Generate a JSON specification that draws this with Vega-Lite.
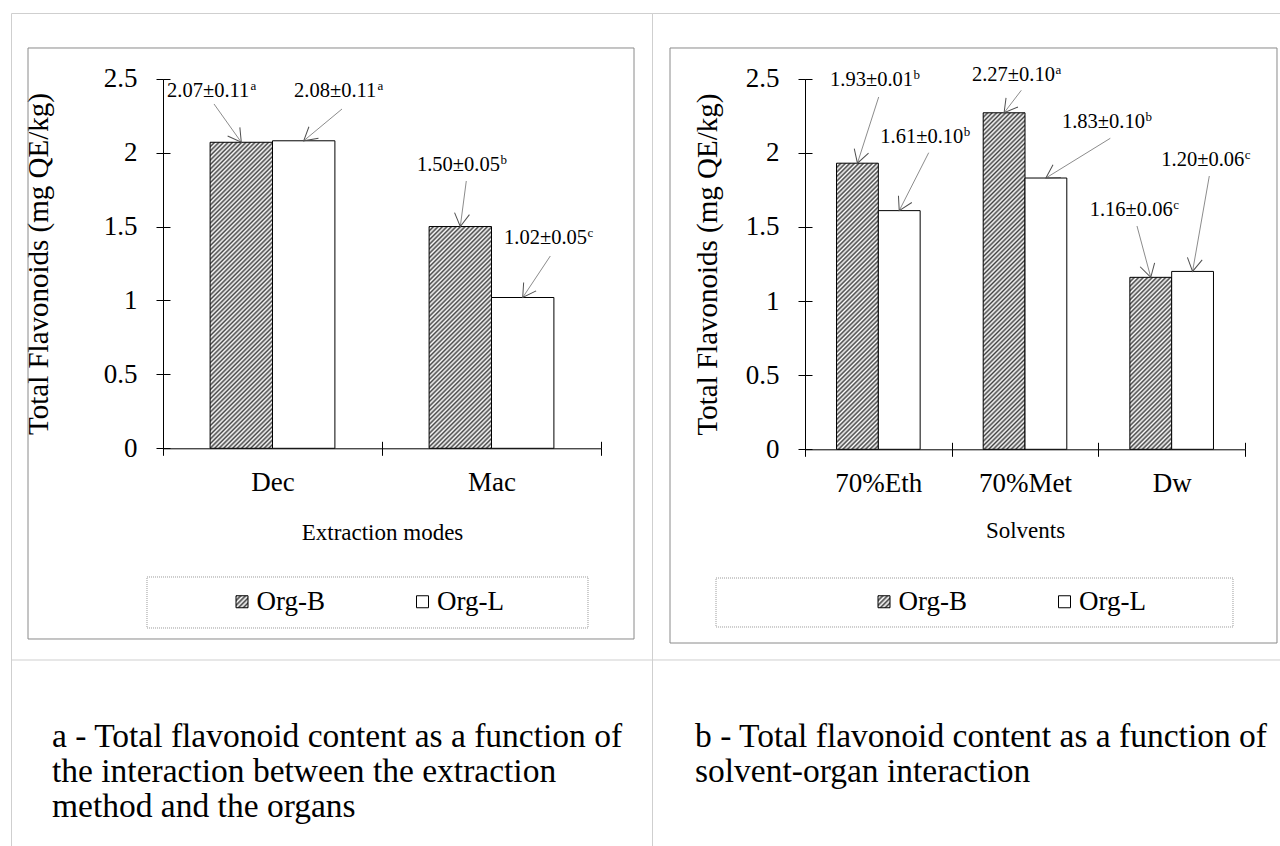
{
"$schema": "https://vega.github.io/schema/vega-lite/v6.json",
"padding": {"left": 9, "top": 12, "right": 0, "bottom": 0},
"autosize": {"type": "pad"},
"background": "white",
"bounds": "flush",
"spacing": 0,
"resolve": {"scale": {"xOffset": "independent", "fill": "independent"}, "legend": {"fill": "independent"}},
"params": [
{"name": "hatch", "value": [{"offset":0,"color":"#444"},{"offset":0.005,"color":"#fff"},{"offset":0.01,"color":"#444"},{"offset":0.015,"color":"#fff"},{"offset":0.02,"color":"#444"},{"offset":0.025,"color":"#fff"},{"offset":0.03,"color":"#444"},{"offset":0.035,"color":"#fff"},{"offset":0.04,"color":"#444"},{"offset":0.045,"color":"#fff"},{"offset":0.05,"color":"#444"},{"offset":0.055,"color":"#fff"},{"offset":0.06,"color":"#444"},{"offset":0.065,"color":"#fff"},{"offset":0.07,"color":"#444"},{"offset":0.075,"color":"#fff"},{"offset":0.08,"color":"#444"},{"offset":0.085,"color":"#fff"},{"offset":0.09,"color":"#444"},{"offset":0.095,"color":"#fff"},
{"offset":0.1,"color":"#444"},{"offset":0.105,"color":"#fff"},{"offset":0.11,"color":"#444"},{"offset":0.115,"color":"#fff"},{"offset":0.12,"color":"#444"},{"offset":0.125,"color":"#fff"},{"offset":0.13,"color":"#444"},{"offset":0.135,"color":"#fff"},{"offset":0.14,"color":"#444"},{"offset":0.145,"color":"#fff"},{"offset":0.15,"color":"#444"},{"offset":0.155,"color":"#fff"},{"offset":0.16,"color":"#444"},{"offset":0.165,"color":"#fff"},{"offset":0.17,"color":"#444"},{"offset":0.175,"color":"#fff"},{"offset":0.18,"color":"#444"},{"offset":0.185,"color":"#fff"},{"offset":0.19,"color":"#444"},{"offset":0.195,"color":"#fff"},
{"offset":0.2,"color":"#444"},{"offset":0.205,"color":"#fff"},{"offset":0.21,"color":"#444"},{"offset":0.215,"color":"#fff"},{"offset":0.22,"color":"#444"},{"offset":0.225,"color":"#fff"},{"offset":0.23,"color":"#444"},{"offset":0.235,"color":"#fff"},{"offset":0.24,"color":"#444"},{"offset":0.245,"color":"#fff"},{"offset":0.25,"color":"#444"},{"offset":0.255,"color":"#fff"},{"offset":0.26,"color":"#444"},{"offset":0.265,"color":"#fff"},{"offset":0.27,"color":"#444"},{"offset":0.275,"color":"#fff"},{"offset":0.28,"color":"#444"},{"offset":0.285,"color":"#fff"},{"offset":0.29,"color":"#444"},{"offset":0.295,"color":"#fff"},
{"offset":0.3,"color":"#444"},{"offset":0.305,"color":"#fff"},{"offset":0.31,"color":"#444"},{"offset":0.315,"color":"#fff"},{"offset":0.32,"color":"#444"},{"offset":0.325,"color":"#fff"},{"offset":0.33,"color":"#444"},{"offset":0.335,"color":"#fff"},{"offset":0.34,"color":"#444"},{"offset":0.345,"color":"#fff"},{"offset":0.35,"color":"#444"},{"offset":0.355,"color":"#fff"},{"offset":0.36,"color":"#444"},{"offset":0.365,"color":"#fff"},{"offset":0.37,"color":"#444"},{"offset":0.375,"color":"#fff"},{"offset":0.38,"color":"#444"},{"offset":0.385,"color":"#fff"},{"offset":0.39,"color":"#444"},{"offset":0.395,"color":"#fff"},
{"offset":0.4,"color":"#444"},{"offset":0.405,"color":"#fff"},{"offset":0.41,"color":"#444"},{"offset":0.415,"color":"#fff"},{"offset":0.42,"color":"#444"},{"offset":0.425,"color":"#fff"},{"offset":0.43,"color":"#444"},{"offset":0.435,"color":"#fff"},{"offset":0.44,"color":"#444"},{"offset":0.445,"color":"#fff"},{"offset":0.45,"color":"#444"},{"offset":0.455,"color":"#fff"},{"offset":0.46,"color":"#444"},{"offset":0.465,"color":"#fff"},{"offset":0.47,"color":"#444"},{"offset":0.475,"color":"#fff"},{"offset":0.48,"color":"#444"},{"offset":0.485,"color":"#fff"},{"offset":0.49,"color":"#444"},{"offset":0.495,"color":"#fff"},
{"offset":0.5,"color":"#444"},{"offset":0.505,"color":"#fff"},{"offset":0.51,"color":"#444"},{"offset":0.515,"color":"#fff"},{"offset":0.52,"color":"#444"},{"offset":0.525,"color":"#fff"},{"offset":0.53,"color":"#444"},{"offset":0.535,"color":"#fff"},{"offset":0.54,"color":"#444"},{"offset":0.545,"color":"#fff"},{"offset":0.55,"color":"#444"},{"offset":0.555,"color":"#fff"},{"offset":0.56,"color":"#444"},{"offset":0.565,"color":"#fff"},{"offset":0.57,"color":"#444"},{"offset":0.575,"color":"#fff"},{"offset":0.58,"color":"#444"},{"offset":0.585,"color":"#fff"},{"offset":0.59,"color":"#444"},{"offset":0.595,"color":"#fff"},
{"offset":0.6,"color":"#444"},{"offset":0.605,"color":"#fff"},{"offset":0.61,"color":"#444"},{"offset":0.615,"color":"#fff"},{"offset":0.62,"color":"#444"},{"offset":0.625,"color":"#fff"},{"offset":0.63,"color":"#444"},{"offset":0.635,"color":"#fff"},{"offset":0.64,"color":"#444"},{"offset":0.645,"color":"#fff"},{"offset":0.65,"color":"#444"},{"offset":0.655,"color":"#fff"},{"offset":0.66,"color":"#444"},{"offset":0.665,"color":"#fff"},{"offset":0.67,"color":"#444"},{"offset":0.675,"color":"#fff"},{"offset":0.68,"color":"#444"},{"offset":0.685,"color":"#fff"},{"offset":0.69,"color":"#444"},{"offset":0.695,"color":"#fff"},
{"offset":0.7,"color":"#444"},{"offset":0.705,"color":"#fff"},{"offset":0.71,"color":"#444"},{"offset":0.715,"color":"#fff"},{"offset":0.72,"color":"#444"},{"offset":0.725,"color":"#fff"},{"offset":0.73,"color":"#444"},{"offset":0.735,"color":"#fff"},{"offset":0.74,"color":"#444"},{"offset":0.745,"color":"#fff"},{"offset":0.75,"color":"#444"},{"offset":0.755,"color":"#fff"},{"offset":0.76,"color":"#444"},{"offset":0.765,"color":"#fff"},{"offset":0.77,"color":"#444"},{"offset":0.775,"color":"#fff"},{"offset":0.78,"color":"#444"},{"offset":0.785,"color":"#fff"},{"offset":0.79,"color":"#444"},{"offset":0.795,"color":"#fff"},
{"offset":0.8,"color":"#444"},{"offset":0.805,"color":"#fff"},{"offset":0.81,"color":"#444"},{"offset":0.815,"color":"#fff"},{"offset":0.82,"color":"#444"},{"offset":0.825,"color":"#fff"},{"offset":0.83,"color":"#444"},{"offset":0.835,"color":"#fff"},{"offset":0.84,"color":"#444"},{"offset":0.845,"color":"#fff"}]},
{"name": "hatchSym", "value": {"gradient": "linear", "x1": 0, "y1": 0, "x2": 1, "y2": 1, "stops": [{"offset":0,"color":"#444"},{"offset":0.1,"color":"#fff"},{"offset":0.2,"color":"#444"},{"offset":0.3,"color":"#fff"},{"offset":0.4,"color":"#444"},{"offset":0.5,"color":"#fff"},{"offset":0.6,"color":"#444"},{"offset":0.7,"color":"#fff"},{"offset":0.8,"color":"#444"},{"offset":0.9,"color":"#fff"},{"offset":1,"color":"#444"}]}}
],
"hconcat": [
{
"width": 641, "height": 860,
"title": {"text": ["a - Total flavonoid content as a function of", "the interaction between the extraction", "method and the organs"], "orient": "bottom", "anchor": "start", "frame": "group", "offset": -152, "dx": 41, "fontSize": 33.5, "lineHeight": 35},
"layer": [
{
"data": {"values": [
{"cat": "Dec", "organ": "Org-B", "value": 2.07, "sd": 0.11, "group": "a"},
{"cat": "Dec", "organ": "Org-L", "value": 2.08, "sd": 0.11, "group": "a"},
{"cat": "Mac", "organ": "Org-B", "value": 1.50, "sd": 0.05, "group": "b"},
{"cat": "Mac", "organ": "Org-L", "value": 1.02, "sd": 0.05, "group": "c"}
]},
"mark": {"type": "bar", "stroke": "black", "strokeWidth": 1},
"encoding": {
"x": {"field": "cat", "type": "nominal", "sort": ["Dec", "Mac"], "scale": {"range": [152, 590], "paddingInner": 0, "paddingOuter": 0}, "axis": {"title": "Extraction modes", "orient": "bottom", "offset": -424.7, "labelAngle": 0, "tickBand": "extent", "labelPadding": 14, "titlePadding": 26}},
"xOffset": {"field": "organ", "type": "nominal", "sort": ["Org-B", "Org-L"], "scale": {"range": [0, 219], "paddingInner": 0, "paddingOuter": 0.755}},
"y": {"field": "value", "type": "quantitative", "scale": {"domain": [0, 2.5], "range": [435.3, 65.7], "nice": false, "zero": false}, "axis": {"title": "Total Flavonoids (mg QE/kg)", "orient": "left", "offset": -152, "values": [0, 0.5, 1, 1.5, 2, 2.5], "format": "~g", "labelPadding": 19, "titlePadding": 50, "titleFontSize": 29}},
"fill": {
"field": "organ", "type": "nominal",
"scale": {"domain": ["Org-B", "Org-L"], "range": [{"expr": "hatchSym"}, "#ffffff"]},
"legend": {"orient": "none", "legendX": 217.5, "legendY": 575, "direction": "horizontal", "title": null, "padding": 0, "symbolType": "square", "symbolSize": 144, "symbolStrokeColor": "black", "symbolStrokeWidth": 1, "labelOffset": 1, "columnPadding": 83.5, "labelFontSize": 27, "labelColor": "black", "labelLimit": 400},
"condition": [
{"test": "datum.cat === 'Dec' && datum.organ === 'Org-B'", "value": {"expr": "{gradient: 'linear', x1: 0, y1: 0, x2: 0.2879, y2: 1.4119, stops: hatch}"}},
{"test": "datum.cat === 'Mac' && datum.organ === 'Org-B'", "value": {"expr": "{gradient: 'linear', x1: 0, y1: 0, x2: 0.5289, y2: 1.8801, stops: hatch}"}}
]
}
}
},
{
"data": {"values": [{}]},
"layer": [
{"mark": {"type": "rect", "filled": false, "color": "#8a8a8a", "strokeWidth": 1}, "encoding": {"x": {"datum": -0.6164, "type": "quantitative", "scale": {"domain": [0, 2], "range": [152, 590]}, "axis": {"orient": "bottom", "offset": -424.7, "values": [0, 1, 2], "tickSize": -7, "labels": false, "domain": false, "title": null, "grid": false}}, "x2": {"datum": 2.1507}, "y": {"datum": 2.7077, "type": "quantitative", "scale": {"domain": [0, 2.5], "range": [435.3, 65.7], "nice": false, "zero": false}, "axis": {"orient": "left", "offset": -152, "values": [0, 0.5, 1, 1.5, 2, 2.5], "tickSize": -7, "labels": false, "domain": false, "title": null, "grid": false}}, "y2": {"datum": -1.2899}}},
{"mark": {"type": "rect", "filled": false, "color": "#9a9a9a", "strokeWidth": 1, "strokeDash": [1, 1]}, "encoding": {"x": {"datum": -0.0731, "type": "quantitative", "scale": {"domain": [0, 2], "range": [152, 590]}}, "x2": {"datum": 1.9406}, "y": {"datum": -0.8705, "type": "quantitative", "scale": {"domain": [0, 2.5], "range": [435.3, 65.7], "nice": false, "zero": false}}, "y2": {"datum": -1.2155}}},
{"mark": {"type": "rule", "color": "#cfcfcf", "strokeWidth": 1}, "encoding": {"x": {"datum": -0.6941, "type": "quantitative", "scale": {"domain": [0, 2], "range": [152, 590]}}, "x2": {"datum": 2.2329}, "y": {"datum": -1.432, "type": "quantitative", "scale": {"domain": [0, 2.5], "range": [435.3, 65.7], "nice": false, "zero": false}}}},

{"mark": {"type": "text", "align": "left", "baseline": "alphabetic", "fontSize": 20.5, "color": "black"}, "encoding": {"x": {"datum": 0.0183, "type": "quantitative", "scale": {"domain": [0, 2], "range": [152, 590]}}, "y": {"datum": 2.373, "type": "quantitative", "scale": {"domain": [0, 2.5], "range": [435.3, 65.7], "nice": false, "zero": false}}, "text": {"value": "2.07±0.11"}}},
{"mark": {"type": "text", "align": "left", "baseline": "alphabetic", "fontSize": 13, "dx": 83.5, "dy": -7, "color": "black"}, "encoding": {"x": {"datum": 0.0183, "type": "quantitative", "scale": {"domain": [0, 2], "range": [152, 590]}}, "y": {"datum": 2.373, "type": "quantitative", "scale": {"domain": [0, 2.5], "range": [435.3, 65.7], "nice": false, "zero": false}}, "text": {"value": "a"}}},
{"mark": {"type": "rule", "color": "#8c8c8c", "strokeWidth": 1}, "encoding": {"x": {"datum": 0.2329, "type": "quantitative", "scale": {"domain": [0, 2], "range": [152, 590]}}, "x2": {"datum": 0.3575}, "y": {"datum": 2.329, "type": "quantitative", "scale": {"domain": [0, 2.5], "range": [435.3, 65.7], "nice": false, "zero": false}}, "y2": {"datum": 2.07}}},
{"mark": {"type": "point", "shape": "M-0.5,-0.866L0,0L0.5,-0.866", "size": 900, "angle": -35.5, "filled": false, "color": "#505050", "opacity": 1, "strokeWidth": 1}, "encoding": {"x": {"datum": 0.3575, "type": "quantitative", "scale": {"domain": [0, 2], "range": [152, 590]}}, "y": {"datum": 2.07, "type": "quantitative", "scale": {"domain": [0, 2.5], "range": [435.3, 65.7], "nice": false, "zero": false}}}},

{"mark": {"type": "text", "align": "left", "baseline": "alphabetic", "fontSize": 20.5, "color": "black"}, "encoding": {"x": {"datum": 0.5982, "type": "quantitative", "scale": {"domain": [0, 2], "range": [152, 590]}}, "y": {"datum": 2.373, "type": "quantitative", "scale": {"domain": [0, 2.5], "range": [435.3, 65.7], "nice": false, "zero": false}}, "text": {"value": "2.08±0.11"}}},
{"mark": {"type": "text", "align": "left", "baseline": "alphabetic", "fontSize": 13, "dx": 83.5, "dy": -7, "color": "black"}, "encoding": {"x": {"datum": 0.5982, "type": "quantitative", "scale": {"domain": [0, 2], "range": [152, 590]}}, "y": {"datum": 2.373, "type": "quantitative", "scale": {"domain": [0, 2.5], "range": [435.3, 65.7], "nice": false, "zero": false}}, "text": {"value": "a"}}},
{"mark": {"type": "rule", "color": "#8c8c8c", "strokeWidth": 1}, "encoding": {"x": {"datum": 0.8174, "type": "quantitative", "scale": {"domain": [0, 2], "range": [152, 590]}}, "x2": {"datum": 0.6425}, "y": {"datum": 2.295, "type": "quantitative", "scale": {"domain": [0, 2.5], "range": [435.3, 65.7], "nice": false, "zero": false}}, "y2": {"datum": 2.08}}},
{"mark": {"type": "point", "shape": "M-0.5,-0.866L0,0L0.5,-0.866", "size": 900, "angle": 50.3, "filled": false, "color": "#505050", "opacity": 1, "strokeWidth": 1}, "encoding": {"x": {"datum": 0.6425, "type": "quantitative", "scale": {"domain": [0, 2], "range": [152, 590]}}, "y": {"datum": 2.08, "type": "quantitative", "scale": {"domain": [0, 2.5], "range": [435.3, 65.7], "nice": false, "zero": false}}}},

{"mark": {"type": "text", "align": "left", "baseline": "alphabetic", "fontSize": 20.5, "color": "black"}, "encoding": {"x": {"datum": 1.1598, "type": "quantitative", "scale": {"domain": [0, 2], "range": [152, 590]}}, "y": {"datum": 1.876, "type": "quantitative", "scale": {"domain": [0, 2.5], "range": [435.3, 65.7], "nice": false, "zero": false}}, "text": {"value": "1.50±0.05"}}},
{"mark": {"type": "text", "align": "left", "baseline": "alphabetic", "fontSize": 13, "dx": 83.5, "dy": -7, "color": "black"}, "encoding": {"x": {"datum": 1.1598, "type": "quantitative", "scale": {"domain": [0, 2], "range": [152, 590]}}, "y": {"datum": 1.876, "type": "quantitative", "scale": {"domain": [0, 2.5], "range": [435.3, 65.7], "nice": false, "zero": false}}, "text": {"value": "b"}}},
{"mark": {"type": "rule", "color": "#8c8c8c", "strokeWidth": 1}, "encoding": {"x": {"datum": 1.3849, "type": "quantitative", "scale": {"domain": [0, 2], "range": [152, 590]}}, "x2": {"datum": 1.3575}, "y": {"datum": 1.808, "type": "quantitative", "scale": {"domain": [0, 2.5], "range": [435.3, 65.7], "nice": false, "zero": false}}, "y2": {"datum": 1.5}}},
{"mark": {"type": "point", "shape": "M-0.5,-0.866L0,0L0.5,-0.866", "size": 900, "angle": 7.5, "filled": false, "color": "#505050", "opacity": 1, "strokeWidth": 1}, "encoding": {"x": {"datum": 1.3575, "type": "quantitative", "scale": {"domain": [0, 2], "range": [152, 590]}}, "y": {"datum": 1.5, "type": "quantitative", "scale": {"domain": [0, 2.5], "range": [435.3, 65.7], "nice": false, "zero": false}}}},

{"mark": {"type": "text", "align": "left", "baseline": "alphabetic", "fontSize": 20.5, "color": "black"}, "encoding": {"x": {"datum": 1.5571, "type": "quantitative", "scale": {"domain": [0, 2], "range": [152, 590]}}, "y": {"datum": 1.382, "type": "quantitative", "scale": {"domain": [0, 2.5], "range": [435.3, 65.7], "nice": false, "zero": false}}, "text": {"value": "1.02±0.05"}}},
{"mark": {"type": "text", "align": "left", "baseline": "alphabetic", "fontSize": 13, "dx": 83.5, "dy": -7, "color": "black"}, "encoding": {"x": {"datum": 1.5571, "type": "quantitative", "scale": {"domain": [0, 2], "range": [152, 590]}}, "y": {"datum": 1.382, "type": "quantitative", "scale": {"domain": [0, 2.5], "range": [435.3, 65.7], "nice": false, "zero": false}}, "text": {"value": "c"}}},
{"mark": {"type": "rule", "color": "#8c8c8c", "strokeWidth": 1}, "encoding": {"x": {"datum": 1.7685, "type": "quantitative", "scale": {"domain": [0, 2], "range": [152, 590]}}, "x2": {"datum": 1.6425}, "y": {"datum": 1.3007, "type": "quantitative", "scale": {"domain": [0, 2.5], "range": [435.3, 65.7], "nice": false, "zero": false}}, "y2": {"datum": 1.02}}},
{"mark": {"type": "point", "shape": "M-0.5,-0.866L0,0L0.5,-0.866", "size": 900, "angle": 33.6, "filled": false, "color": "#505050", "opacity": 1, "strokeWidth": 1}, "encoding": {"x": {"datum": 1.6425, "type": "quantitative", "scale": {"domain": [0, 2], "range": [152, 590]}}, "y": {"datum": 1.02, "type": "quantitative", "scale": {"domain": [0, 2.5], "range": [435.3, 65.7], "nice": false, "zero": false}}}}
]
}
],
"resolve": {"scale": {"x": "independent", "y": "independent"}, "axis": {"x": "independent", "y": "independent"}}
},
{
"width": 641, "height": 860,
"title": {"text": ["b - Total flavonoid content as a function of", "solvent-organ interaction"], "orient": "bottom", "anchor": "start", "frame": "group", "offset": -152, "dx": 43, "fontSize": 33.5, "lineHeight": 35},
"layer": [
{
"data": {"values": [
{"cat": "70%Eth", "organ": "Org-B", "value": 1.93, "sd": 0.01, "group": "b"},
{"cat": "70%Eth", "organ": "Org-L", "value": 1.61, "sd": 0.10, "group": "b"},
{"cat": "70%Met", "organ": "Org-B", "value": 2.27, "sd": 0.10, "group": "a"},
{"cat": "70%Met", "organ": "Org-L", "value": 1.83, "sd": 0.10, "group": "b"},
{"cat": "Dw", "organ": "Org-B", "value": 1.16, "sd": 0.06, "group": "c"},
{"cat": "Dw", "organ": "Org-L", "value": 1.20, "sd": 0.06, "group": "c"}
]},
"mark": {"type": "bar", "stroke": "black", "strokeWidth": 1},
"encoding": {
"x": {"field": "cat", "type": "nominal", "sort": ["70%Eth", "70%Met", "Dw"], "scale": {"range": [153, 593], "paddingInner": 0, "paddingOuter": 0}, "axis": {"title": "Solvents", "orient": "bottom", "offset": -423.7, "labelAngle": 0, "tickBand": "extent", "labelPadding": 14, "titlePadding": 23}},
"xOffset": {"field": "organ", "type": "nominal", "sort": ["Org-B", "Org-L"], "scale": {"range": [0, 146.67], "paddingInner": 0, "paddingOuter": 0.754}},
"y": {"field": "value", "type": "quantitative", "scale": {"domain": [0, 2.5], "range": [436.3, 65.7], "nice": false, "zero": false}, "axis": {"title": "Total Flavonoids (mg QE/kg)", "orient": "left", "offset": -153, "values": [0, 0.5, 1, 1.5, 2, 2.5], "format": "~g", "labelPadding": 19, "titlePadding": 23, "titleFontSize": 29}},
"fill": {
"field": "organ", "type": "nominal",
"scale": {"domain": ["Org-B", "Org-L"], "range": [{"expr": "hatchSym"}, "#ffffff"]},
"legend": {"orient": "none", "legendX": 218.5, "legendY": 575, "direction": "horizontal", "title": null, "padding": 0, "symbolType": "square", "symbolSize": 144, "symbolStrokeColor": "black", "symbolStrokeWidth": 1, "labelOffset": 1, "columnPadding": 83.5, "labelFontSize": 27, "labelColor": "black", "labelLimit": 400},
"condition": [
{"test": "datum.cat === '70%Eth' && datum.organ === 'Org-B'", "value": {"expr": "{gradient: 'linear', x1: 0, y1: 0, x2: 0.2250, y2: 1.5400, stops: hatch}"}},
{"test": "datum.cat === '70%Met' && datum.organ === 'Org-B'", "value": {"expr": "{gradient: 'linear', x1: 0, y1: 0, x2: 0.1636, y2: 1.3170, stops: hatch}"}},
{"test": "datum.cat === 'Dw' && datum.organ === 'Org-B'", "value": {"expr": "{gradient: 'linear', x1: 0, y1: 0, x2: 0.6004, y2: 2.4704, stops: hatch}"}}
]
}
}
},
{
"data": {"values": [{}]},
"layer": [
{"mark": {"type": "rect", "filled": false, "color": "#8a8a8a", "strokeWidth": 1}, "encoding": {"x": {"datum": -0.9204, "type": "quantitative", "scale": {"domain": [0, 3], "range": [153, 593]}, "axis": {"orient": "bottom", "offset": -423.7, "values": [0, 1, 2, 3], "tickSize": -7, "labels": false, "domain": false, "title": null, "grid": false}}, "x2": {"datum": 3.2181}, "y": {"datum": 2.7071, "type": "quantitative", "scale": {"domain": [0, 2.5], "range": [436.3, 65.7], "nice": false, "zero": false}, "axis": {"orient": "left", "offset": -153, "values": [0, 0.5, 1, 1.5, 2, 2.5], "tickSize": -7, "labels": false, "domain": false, "title": null, "grid": false}}, "y2": {"datum": -1.3067}}},
{"mark": {"type": "rect", "filled": false, "color": "#9a9a9a", "strokeWidth": 1, "strokeDash": [1, 1]}, "encoding": {"x": {"datum": -0.6068, "type": "quantitative", "scale": {"domain": [0, 3], "range": [153, 593]}}, "x2": {"datum": 2.9181}, "y": {"datum": -0.8682, "type": "quantitative", "scale": {"domain": [0, 2.5], "range": [436.3, 65.7], "nice": false, "zero": false}}, "y2": {"datum": -1.1987}}},
{"mark": {"type": "rule", "color": "#cfcfcf", "strokeWidth": 1}, "encoding": {"x": {"datum": -1.0432, "type": "quantitative", "scale": {"domain": [0, 3], "range": [153, 593]}}, "x2": {"datum": 3.3272}, "y": {"datum": -1.4213, "type": "quantitative", "scale": {"domain": [0, 2.5], "range": [436.3, 65.7], "nice": false, "zero": false}}}},

{"mark": {"type": "text", "align": "left", "baseline": "alphabetic", "fontSize": 20.5, "color": "black"}, "encoding": {"x": {"datum": 0.1705, "type": "quantitative", "scale": {"domain": [0, 3], "range": [153, 593]}}, "y": {"datum": 2.4508, "type": "quantitative", "scale": {"domain": [0, 2.5], "range": [436.3, 65.7], "nice": false, "zero": false}}, "text": {"value": "1.93±0.01"}}},
{"mark": {"type": "text", "align": "left", "baseline": "alphabetic", "fontSize": 13, "dx": 83.5, "dy": -7, "color": "black"}, "encoding": {"x": {"datum": 0.1705, "type": "quantitative", "scale": {"domain": [0, 3], "range": [153, 593]}}, "y": {"datum": 2.4508, "type": "quantitative", "scale": {"domain": [0, 2.5], "range": [436.3, 65.7], "nice": false, "zero": false}}, "text": {"value": "b"}}},
{"mark": {"type": "rule", "color": "#8c8c8c", "strokeWidth": 1}, "encoding": {"x": {"datum": 0.5025, "type": "quantitative", "scale": {"domain": [0, 3], "range": [153, 593]}}, "x2": {"datum": 0.3575}, "y": {"datum": 2.3766, "type": "quantitative", "scale": {"domain": [0, 2.5], "range": [436.3, 65.7], "nice": false, "zero": false}}, "y2": {"datum": 1.93}}},
{"mark": {"type": "point", "shape": "M-0.5,-0.866L0,0L0.5,-0.866", "size": 900, "angle": 17.8, "filled": false, "color": "#505050", "opacity": 1, "strokeWidth": 1}, "encoding": {"x": {"datum": 0.3575, "type": "quantitative", "scale": {"domain": [0, 3], "range": [153, 593]}}, "y": {"datum": 1.93, "type": "quantitative", "scale": {"domain": [0, 2.5], "range": [436.3, 65.7], "nice": false, "zero": false}}}},

{"mark": {"type": "text", "align": "left", "baseline": "alphabetic", "fontSize": 20.5, "color": "black"}, "encoding": {"x": {"datum": 0.5134, "type": "quantitative", "scale": {"domain": [0, 3], "range": [153, 593]}}, "y": {"datum": 2.0683, "type": "quantitative", "scale": {"domain": [0, 2.5], "range": [436.3, 65.7], "nice": false, "zero": false}}, "text": {"value": "1.61±0.10"}}},
{"mark": {"type": "text", "align": "left", "baseline": "alphabetic", "fontSize": 13, "dx": 83.5, "dy": -7, "color": "black"}, "encoding": {"x": {"datum": 0.5134, "type": "quantitative", "scale": {"domain": [0, 3], "range": [153, 593]}}, "y": {"datum": 2.0683, "type": "quantitative", "scale": {"domain": [0, 2.5], "range": [436.3, 65.7], "nice": false, "zero": false}}, "text": {"value": "b"}}},
{"mark": {"type": "rule", "color": "#8c8c8c", "strokeWidth": 1}, "encoding": {"x": {"datum": 0.8434, "type": "quantitative", "scale": {"domain": [0, 3], "range": [153, 593]}}, "x2": {"datum": 0.6425}, "y": {"datum": 2.0008, "type": "quantitative", "scale": {"domain": [0, 2.5], "range": [436.3, 65.7], "nice": false, "zero": false}}, "y2": {"datum": 1.61}}},
{"mark": {"type": "point", "shape": "M-0.5,-0.866L0,0L0.5,-0.866", "size": 900, "angle": 27.0, "filled": false, "color": "#505050", "opacity": 1, "strokeWidth": 1}, "encoding": {"x": {"datum": 0.6425, "type": "quantitative", "scale": {"domain": [0, 3], "range": [153, 593]}}, "y": {"datum": 1.61, "type": "quantitative", "scale": {"domain": [0, 2.5], "range": [436.3, 65.7], "nice": false, "zero": false}}}},

{"mark": {"type": "text", "align": "left", "baseline": "alphabetic", "fontSize": 20.5, "color": "black"}, "encoding": {"x": {"datum": 1.1386, "type": "quantitative", "scale": {"domain": [0, 3], "range": [153, 593]}}, "y": {"datum": 2.4845, "type": "quantitative", "scale": {"domain": [0, 2.5], "range": [436.3, 65.7], "nice": false, "zero": false}}, "text": {"value": "2.27±0.10"}}},
{"mark": {"type": "text", "align": "left", "baseline": "alphabetic", "fontSize": 13, "dx": 83.5, "dy": -7, "color": "black"}, "encoding": {"x": {"datum": 1.1386, "type": "quantitative", "scale": {"domain": [0, 3], "range": [153, 593]}}, "y": {"datum": 2.4845, "type": "quantitative", "scale": {"domain": [0, 2.5], "range": [436.3, 65.7], "nice": false, "zero": false}}, "text": {"value": "a"}}},
{"mark": {"type": "rule", "color": "#8c8c8c", "strokeWidth": 1}, "encoding": {"x": {"datum": 1.4748, "type": "quantitative", "scale": {"domain": [0, 3], "range": [153, 593]}}, "x2": {"datum": 1.3575}, "y": {"datum": 2.4218, "type": "quantitative", "scale": {"domain": [0, 2.5], "range": [436.3, 65.7], "nice": false, "zero": false}}, "y2": {"datum": 2.27}}},
{"mark": {"type": "point", "shape": "M-0.5,-0.866L0,0L0.5,-0.866", "size": 900, "angle": 37.4, "filled": false, "color": "#505050", "opacity": 1, "strokeWidth": 1}, "encoding": {"x": {"datum": 1.3575, "type": "quantitative", "scale": {"domain": [0, 3], "range": [153, 593]}}, "y": {"datum": 2.27, "type": "quantitative", "scale": {"domain": [0, 2.5], "range": [436.3, 65.7], "nice": false, "zero": false}}}},

{"mark": {"type": "text", "align": "left", "baseline": "alphabetic", "fontSize": 20.5, "color": "black"}, "encoding": {"x": {"datum": 1.7522, "type": "quantitative", "scale": {"domain": [0, 3], "range": [153, 593]}}, "y": {"datum": 2.1695, "type": "quantitative", "scale": {"domain": [0, 2.5], "range": [436.3, 65.7], "nice": false, "zero": false}}, "text": {"value": "1.83±0.10"}}},
{"mark": {"type": "text", "align": "left", "baseline": "alphabetic", "fontSize": 13, "dx": 83.5, "dy": -7, "color": "black"}, "encoding": {"x": {"datum": 1.7522, "type": "quantitative", "scale": {"domain": [0, 3], "range": [153, 593]}}, "y": {"datum": 2.1695, "type": "quantitative", "scale": {"domain": [0, 2.5], "range": [436.3, 65.7], "nice": false, "zero": false}}, "text": {"value": "b"}}},
{"mark": {"type": "rule", "color": "#8c8c8c", "strokeWidth": 1}, "encoding": {"x": {"datum": 2.0816, "type": "quantitative", "scale": {"domain": [0, 3], "range": [153, 593]}}, "x2": {"datum": 1.6425}, "y": {"datum": 2.098, "type": "quantitative", "scale": {"domain": [0, 2.5], "range": [436.3, 65.7], "nice": false, "zero": false}}, "y2": {"datum": 1.83}}},
{"mark": {"type": "point", "shape": "M-0.5,-0.866L0,0L0.5,-0.866", "size": 900, "angle": 58.3, "filled": false, "color": "#505050", "opacity": 1, "strokeWidth": 1}, "encoding": {"x": {"datum": 1.6425, "type": "quantitative", "scale": {"domain": [0, 3], "range": [153, 593]}}, "y": {"datum": 1.83, "type": "quantitative", "scale": {"domain": [0, 2.5], "range": [436.3, 65.7], "nice": false, "zero": false}}}},

{"mark": {"type": "text", "align": "left", "baseline": "alphabetic", "fontSize": 20.5, "color": "black"}, "encoding": {"x": {"datum": 2.4293, "type": "quantitative", "scale": {"domain": [0, 3], "range": [153, 593]}}, "y": {"datum": 1.9111, "type": "quantitative", "scale": {"domain": [0, 2.5], "range": [436.3, 65.7], "nice": false, "zero": false}}, "text": {"value": "1.20±0.06"}}},
{"mark": {"type": "text", "align": "left", "baseline": "alphabetic", "fontSize": 13, "dx": 83.5, "dy": -7, "color": "black"}, "encoding": {"x": {"datum": 2.4293, "type": "quantitative", "scale": {"domain": [0, 3], "range": [153, 593]}}, "y": {"datum": 1.9111, "type": "quantitative", "scale": {"domain": [0, 2.5], "range": [436.3, 65.7], "nice": false, "zero": false}}, "text": {"value": "c"}}},
{"mark": {"type": "rule", "color": "#8c8c8c", "strokeWidth": 1}, "encoding": {"x": {"datum": 2.7566, "type": "quantitative", "scale": {"domain": [0, 3], "range": [153, 593]}}, "x2": {"datum": 2.6425}, "y": {"datum": 1.8436, "type": "quantitative", "scale": {"domain": [0, 2.5], "range": [436.3, 65.7], "nice": false, "zero": false}}, "y2": {"datum": 1.2}}},
{"mark": {"type": "point", "shape": "M-0.5,-0.866L0,0L0.5,-0.866", "size": 900, "angle": 9.9, "filled": false, "color": "#505050", "opacity": 1, "strokeWidth": 1}, "encoding": {"x": {"datum": 2.6425, "type": "quantitative", "scale": {"domain": [0, 3], "range": [153, 593]}}, "y": {"datum": 1.2, "type": "quantitative", "scale": {"domain": [0, 2.5], "range": [436.3, 65.7], "nice": false, "zero": false}}}},

{"mark": {"type": "text", "align": "left", "baseline": "alphabetic", "fontSize": 20.5, "color": "black"}, "encoding": {"x": {"datum": 1.9411, "type": "quantitative", "scale": {"domain": [0, 3], "range": [153, 593]}}, "y": {"datum": 1.5738, "type": "quantitative", "scale": {"domain": [0, 2.5], "range": [436.3, 65.7], "nice": false, "zero": false}}, "text": {"value": "1.16±0.06"}}},
{"mark": {"type": "text", "align": "left", "baseline": "alphabetic", "fontSize": 13, "dx": 83.5, "dy": -7, "color": "black"}, "encoding": {"x": {"datum": 1.9411, "type": "quantitative", "scale": {"domain": [0, 3], "range": [153, 593]}}, "y": {"datum": 1.5738, "type": "quantitative", "scale": {"domain": [0, 2.5], "range": [436.3, 65.7], "nice": false, "zero": false}}, "text": {"value": "c"}}},
{"mark": {"type": "rule", "color": "#8c8c8c", "strokeWidth": 1}, "encoding": {"x": {"datum": 2.2636, "type": "quantitative", "scale": {"domain": [0, 3], "range": [153, 593]}}, "x2": {"datum": 2.3575}, "y": {"datum": 1.5064, "type": "quantitative", "scale": {"domain": [0, 2.5], "range": [436.3, 65.7], "nice": false, "zero": false}}, "y2": {"datum": 1.16}}},
{"mark": {"type": "point", "shape": "M-0.5,-0.866L0,0L0.5,-0.866", "size": 900, "angle": -15.1, "filled": false, "color": "#505050", "opacity": 1, "strokeWidth": 1}, "encoding": {"x": {"datum": 2.3575, "type": "quantitative", "scale": {"domain": [0, 3], "range": [153, 593]}}, "y": {"datum": 1.16, "type": "quantitative", "scale": {"domain": [0, 2.5], "range": [436.3, 65.7], "nice": false, "zero": false}}}}
]
}
],
"resolve": {"scale": {"x": "independent", "y": "independent"}, "axis": {"x": "independent", "y": "independent"}}
}
],
"config": {
"view": {"stroke": "#cfcfcf", "strokeWidth": 1},
"font": "Liberation Serif",
"axis": {"grid": false, "domainColor": "black", "tickColor": "black", "domainWidth": 1, "tickWidth": 1, "tickSize": 7, "labelFont": "Liberation Serif", "labelFontSize": 27, "labelColor": "black", "titleFont": "Liberation Serif", "titleFontSize": 23, "titleFontWeight": "normal", "titleColor": "black"},
"legend": {"labelFont": "Liberation Serif"},
"title": {"font": "Liberation Serif", "fontWeight": "normal", "color": "black"}
}
}
